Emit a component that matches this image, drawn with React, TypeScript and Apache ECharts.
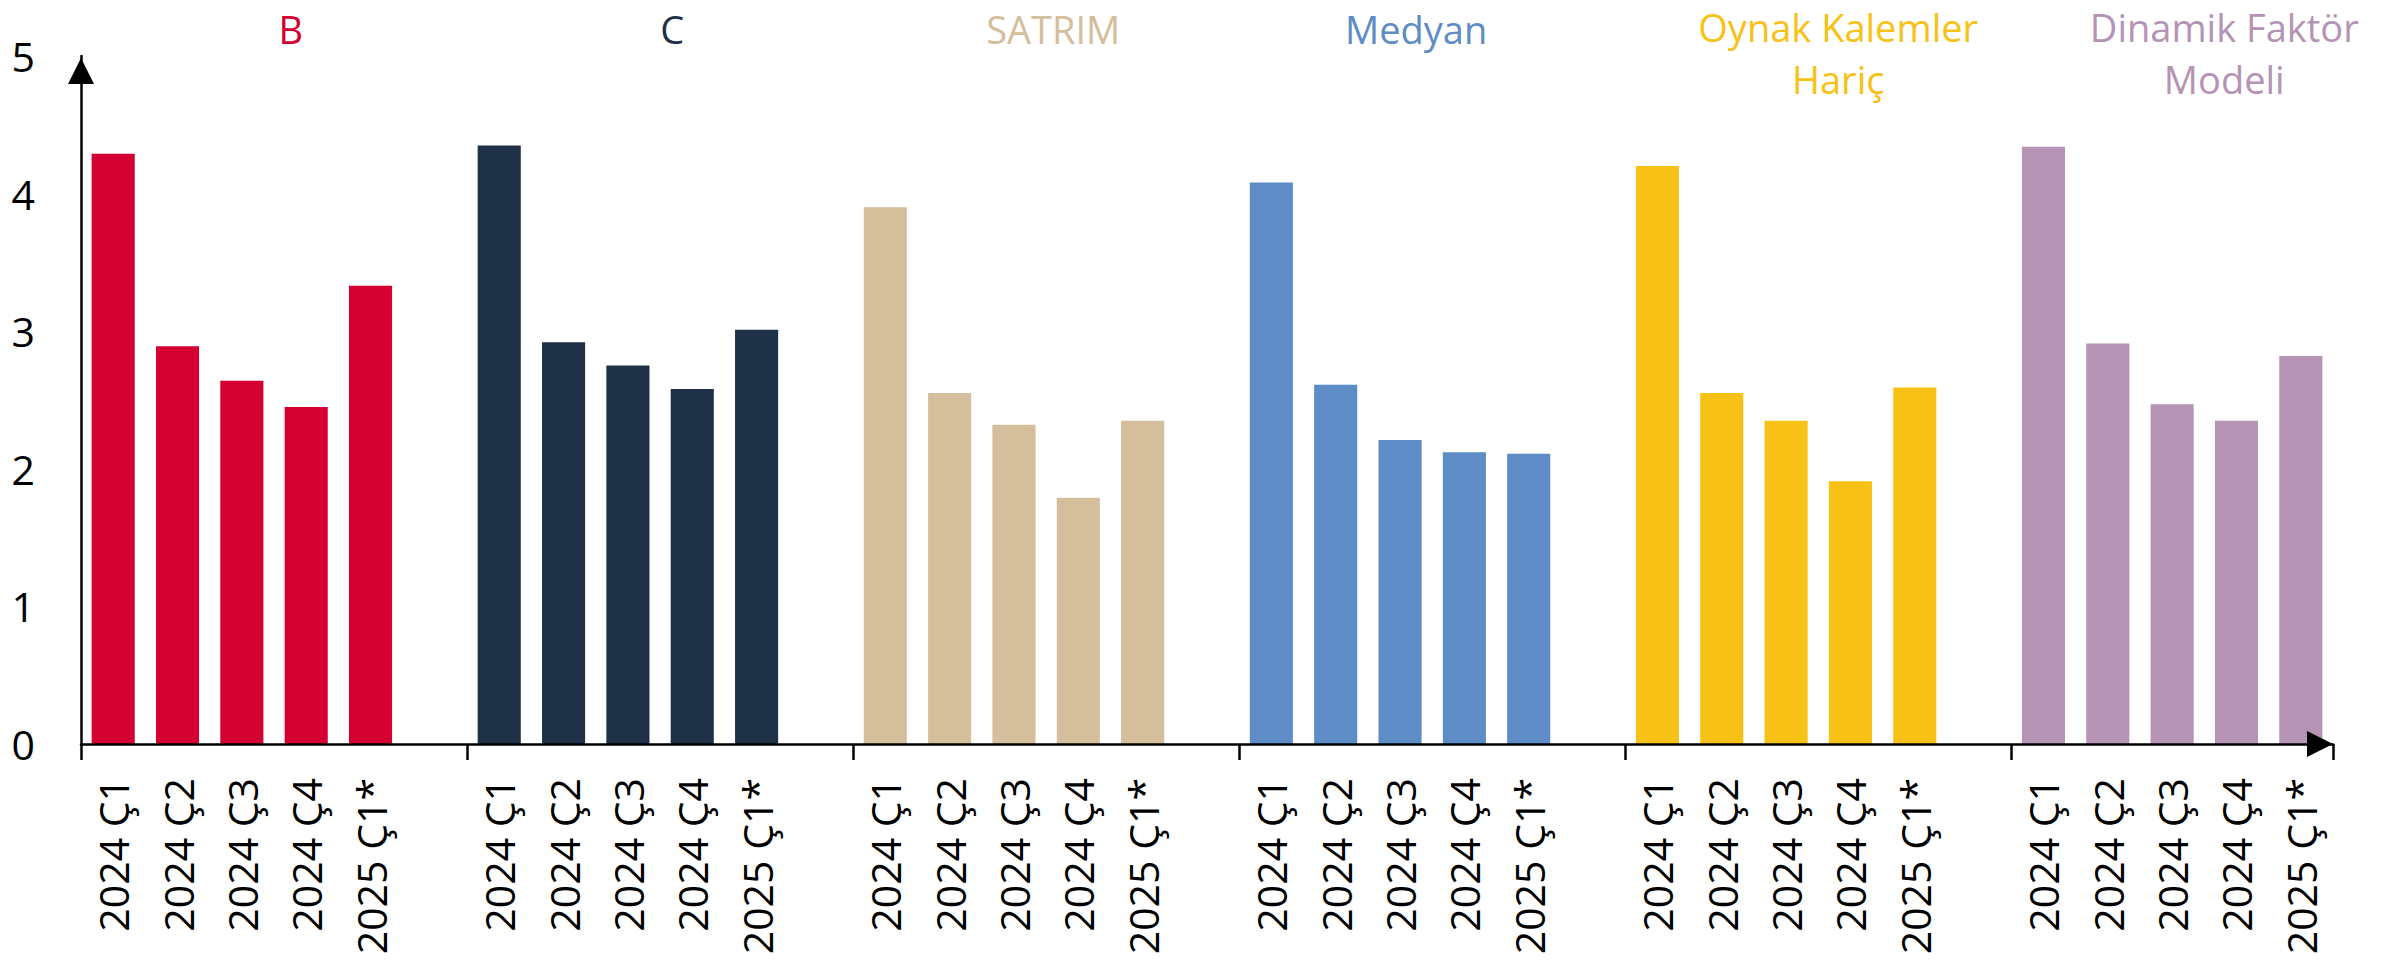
import React, { useEffect, useRef } from "react";
import * as echarts from "echarts";

// ---- data ----
const groupTitles = [["B"], ["C"], ["SATRIM"], ["Medyan"], ["Oynak Kalemler", "Hariç"], ["Dinamik Faktör", "Modeli"]];
const periods = ["2024 Ç1", "2024 Ç2", "2024 Ç3", "2024 Ç4", "2025 Ç1*"];
const valuesB = [4.29, 2.89, 2.64, 2.45, 3.33];
const valuesC = [4.35, 2.92, 2.75, 2.58, 3.01];
const valuesSATRIM = [3.9, 2.55, 2.32, 1.79, 2.35];
const valuesMedyan = [4.08, 2.61, 2.21, 2.12, 2.11];
const valuesOynak = [4.2, 2.55, 2.35, 1.91, 2.59];
const valuesDinamik = [4.34, 2.91, 2.47, 2.35, 2.82];
const yTickValues = [0, 1, 2, 3, 4, 5];

// ---- styles ----
const groupColors = ["#D40031", "#1E3147", "#D4BE9B", "#5E8CC6", "#F8C116", "#B593B5"];
const titleSlotOffset = [3.26, 3.19, 3.11, 2.75, 3.31, 3.31];
const FONT = '"Open Sans", "Noto Sans", sans-serif';
const TITLE_SIZE = 38;

const allValues = [valuesB, valuesC, valuesSATRIM, valuesMedyan, valuesOynak, valuesDinamik];
const SLOTS_PER_GROUP = periods.length + 1;
const nGroups = allValues.length;
const nCats = nGroups * SLOTS_PER_GROUP - 1;

const categories: string[] = [];
for (let g = 0; g < nGroups; g++) {
  periods.forEach((p) => categories.push(p));
  if (g < nGroups - 1) categories.push("");
}

export default function App() {
  const ref = useRef<HTMLDivElement>(null);
  useEffect(() => {
    if (!ref.current) return;
    const chart = echarts.init(ref.current, undefined, { renderer: "svg" });
    const series = allValues.map((vals, g) => {
      const data: (number | null)[] = new Array(nCats).fill(null);
      vals.forEach((v, i) => {
        data[g * SLOTS_PER_GROUP + i] = v;
      });
      return {
        type: "bar",
        name: groupTitles[g].join(" "),
        stack: "all",
        data,
        barCategoryGap: "33%",
        itemStyle: { color: groupColors[g] },
        z: 2,
      };
    });
    chart.setOption({
      animation: false,
      grid: { left: 81, right: 72, top: 56, bottom: 218, outerBoundsMode: "none" },
      xAxis: {
        type: "category",
        data: categories,
        boundaryGap: true,
        z: 10,
        axisLine: {
          show: true,
          lineStyle: { color: "#000", width: 2.5 },
          symbol: ["none", "triangle"],
          symbolSize: [26, 26],
          symbolOffset: [0, -13],
        },
        axisTick: {
          show: true,
          length: 16,
          interval: (index: number) => index % SLOTS_PER_GROUP === 0,
          lineStyle: { color: "#000", width: 2.5 },
        },
        axisLabel: {
          interval: 0,
          rotate: 90,
          margin: 34,
          color: "#000",
          fontSize: 41,
          fontFamily: FONT,
          padding: [0, 0, 4, 0],
        },
        splitLine: { show: false },
      },
      yAxis: {
        type: "value",
        min: yTickValues[0],
        max: yTickValues[yTickValues.length - 1],
        interval: 1,
        z: 10,
        axisLine: {
          show: true,
          lineStyle: { color: "#000", width: 2.5 },
          symbol: ["none", "triangle"],
          symbolSize: [26, 26],
          symbolOffset: [0, -15],
        },
        axisTick: { show: false },
        splitLine: { show: false },
        axisLabel: {
          margin: 46,
          color: "#000",
          fontSize: 41,
          fontFamily: FONT,
          padding: [0, 0, 6, 0],
        },
      },
      series,
    });

    const c0 = chart.convertToPixel({ xAxisIndex: 0 }, 0) as number;
    const c1 = chart.convertToPixel({ xAxisIndex: 0 }, 1) as number;
    const slot = c1 - c0;
    const graphic: any[] = [];
    groupTitles.forEach((lines, g) => {
      const groupStart = c0 - slot / 2 + g * SLOTS_PER_GROUP * slot;
      const twoLine = lines.length > 1;
      lines.forEach((line, li) => {
        graphic.push({
          type: "text",
          x: groupStart + titleSlotOffset[g] * slot,
          y: (twoLine ? 27 : 29) + li * 52,
          style: {
            text: line,
            fill: groupColors[g],
            fontSize: TITLE_SIZE,
            fontFamily: FONT,
            align: "center",
            verticalAlign: "middle",
            lineHeight: 34,
          },
        });
      });
    });
    chart.setOption({ graphic });

    return () => chart.dispose();
  }, []);
  return (
    <div
      ref={ref}
      style={{ position: "absolute", left: 0, top: 0, width: 2405, height: 962 }}
    />
  );
}
